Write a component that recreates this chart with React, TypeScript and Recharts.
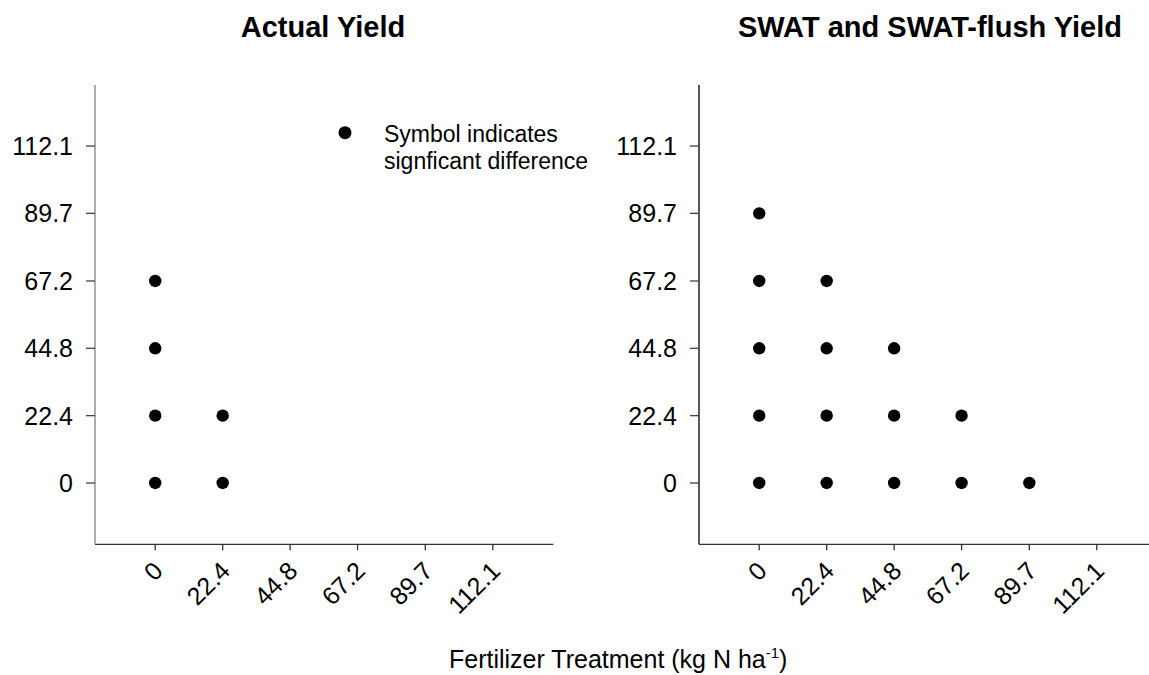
import React from "react";
import { ScatterChart, Scatter, XAxis, YAxis } from "recharts";

// Fertilizer treatments (kg N ha^-1), used as tick labels on both axes
const treatmentTicks = [0, 22.4, 44.8, 67.2, 89.7, 112.1];

// Actual yield: pairs of treatments with a significant difference
const actualX = [0, 0, 0, 0, 22.4, 22.4];
const actualY = [0, 22.4, 44.8, 67.2, 0, 22.4];

// SWAT and SWAT-flush yield: pairs of treatments with a significant difference
const swatX = [0, 0, 0, 0, 0, 22.4, 22.4, 22.4, 22.4, 44.8, 44.8, 44.8, 67.2, 67.2, 89.7];
const swatY = [0, 22.4, 44.8, 67.2, 89.7, 0, 22.4, 44.8, 67.2, 0, 22.4, 44.8, 0, 22.4, 0];

const titles = ["Actual Yield", "SWAT and SWAT-flush Yield"];
const legendLines = ["Symbol indicates", "signficant difference"];

const FONT = "'Liberation Sans', Arial, sans-serif";

const toPoints = (xs: number[], ys: number[]) => xs.map((x, i) => ({ x, y: ys[i] }));

const Dot = (props: any) => <circle cx={props.cx} cy={props.cy} r={6.2} fill="#000" />;

const XTick = (props: any) => {
  const { x, y, payload } = props;
  return (
    <g transform={`translate(${x + 9},${y + 20})`}>
      <text x={0} y={0} textAnchor="end" transform="rotate(-45)" fontSize={25} fontFamily={FONT} fill="#000">
        {payload.value}
      </text>
    </g>
  );
};

const CHART_W = 574;
const CHART_H = 675;

function Panel({ data, yAxisColor }: { data: { x: number; y: number }[]; yAxisColor: string }) {
  return (
    <ScatterChart width={CHART_W} height={CHART_H} margin={{ top: 85, right: 20.7, bottom: 70.7, left: 0 }}>
      <XAxis
        type="number"
        dataKey="x"
        domain={[-20, 132.2]}
        ticks={treatmentTicks}
        interval={0}
        height={60}
        axisLine={{ stroke: "#333", strokeWidth: 1.3 }}
        tickLine={{ stroke: "#333", strokeWidth: 1.3 }}
        tickSize={6}
        tick={<XTick />}
      />
      <YAxis
        type="number"
        dataKey="y"
        domain={[-20.4, 132.4]}
        ticks={treatmentTicks}
        interval={0}
        width={95}
        axisLine={{ stroke: yAxisColor, strokeWidth: 1.3 }}
        tickLine={{ stroke: "#444", strokeWidth: 1.3 }}
        tickSize={9}
        tickMargin={13}
        tick={{ fontSize: 25, fontFamily: FONT, fill: "#000" }}
      />
      <Scatter data={data} shape={<Dot />} isAnimationActive={false} />
    </ScatterChart>
  );
}

export default function App() {
  return (
    <div
      style={{
        position: "absolute",
        left: 0,
        top: 0,
        width: 1149,
        height: 675,
        overflow: "hidden",
        background: "#fff",
      }}
    >
      <div style={{ position: "absolute", left: 0, top: 0 }}>
        <Panel data={toPoints(actualX, actualY)} yAxisColor="#808080" />
      </div>
      <div style={{ position: "absolute", left: 604.3, top: 0 }}>
        <Panel data={toPoints(swatX, swatY)} yAxisColor="#000" />
      </div>
      <svg
        width={1149}
        height={675}
        style={{ position: "absolute", left: 0, top: 0, pointerEvents: "none" }}
        fontFamily={FONT}
      >
        <text x={323} y={36.7} textAnchor="middle" fontSize={29} fontWeight="bold" fill="#000">
          {titles[0]}
        </text>
        <text x={930} y={36.7} textAnchor="middle" fontSize={29} fontWeight="bold" fill="#000">
          {titles[1]}
        </text>
        <circle cx={345} cy={132.7} r={6.5} fill="#000" />
        <text x={384} y={141.7} fontSize={23} fill="#000">
          {legendLines[0]}
        </text>
        <text x={384} y={169.3} fontSize={23} fill="#000">
          {legendLines[1]}
        </text>
        <text x={449} y={668.3} fontSize={25} fill="#000">
          <tspan>Fertilizer Treatment (kg N ha</tspan>
          <tspan dy={-10} fontSize={15}>-1</tspan>
          <tspan dy={10}>)</tspan>
        </text>
      </svg>
    </div>
  );
}
